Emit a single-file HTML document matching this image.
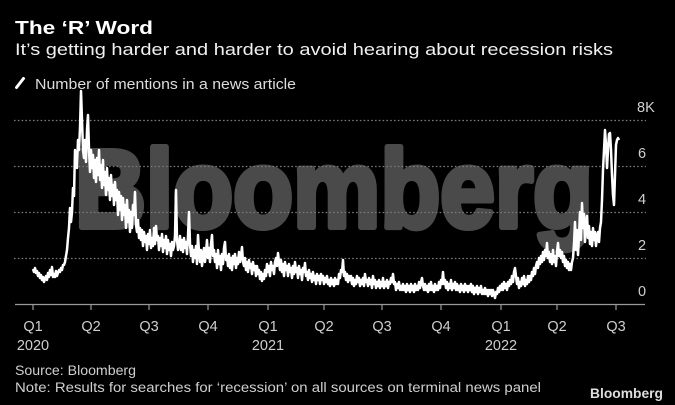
<!DOCTYPE html>
<html><head><meta charset="utf-8"><style>
html,body{margin:0;padding:0;background:#000;}
svg{display:block;}
text{font-family:"Liberation Sans",sans-serif;}
</style></head><body>
<svg width="675" height="405" viewBox="0 0 675 405" xmlns="http://www.w3.org/2000/svg">
<rect width="675" height="405" fill="#000"/>
<!-- watermark -->
<text x="75" y="227" font-size="110" font-weight="bold" fill="#4a4a4a" stroke="#4a4a4a" stroke-width="6" stroke-linejoin="round" textLength="518" lengthAdjust="spacingAndGlyphs">Bloomberg</text>
<!-- gridlines -->
<g stroke="#7a7a7a" stroke-width="1.3" stroke-dasharray="1.6 2.2">
<line x1="14" y1="120.5" x2="646" y2="120.5"/>
<line x1="14" y1="166.5" x2="646" y2="166.5"/>
<line x1="14" y1="212.5" x2="646" y2="212.5"/>
<line x1="14" y1="258.5" x2="646" y2="258.5"/>
</g>
<!-- axis -->
<line x1="15" y1="304.5" x2="645" y2="304.5" stroke="#999" stroke-width="1.2"/>
<g stroke="#999" stroke-width="1.2">
<line x1="33" y1="304" x2="33" y2="310"/>
<line x1="91" y1="304" x2="91" y2="310"/>
<line x1="149" y1="304" x2="149" y2="310"/>
<line x1="208" y1="304" x2="208" y2="310"/>
<line x1="268" y1="304" x2="268" y2="310"/>
<line x1="324" y1="304" x2="324" y2="310"/>
<line x1="382" y1="304" x2="382" y2="310"/>
<line x1="441" y1="304" x2="441" y2="310"/>
<line x1="501" y1="304" x2="501" y2="310"/>
<line x1="557" y1="304" x2="557" y2="310"/>
<line x1="616" y1="304" x2="616" y2="310"/>
</g>
<!-- data -->
<polyline fill="none" stroke="#fff" stroke-width="2.5" stroke-linejoin="round" points="
33,269 34,272 35,268 36,273 37,271 38,276 39,273 40,278 41,275 42,280 43,277 44,282 45,279 46,276 47,280 48,273 49,277 50,270 51,275 52,267 53,277 54,274 55,277 56,271 57,276 58,273 59,270 60,272 61,268 62,270 63,265
64,265 65,262 66,256 67,250 68,238 69,228 70,208 71,222 72,212 73,188 74,196 75,150 76,158 77,168 78,140 79,150 80,128 81,91 82,120 83,150
84,158 85,140 86,162 87,130 88,115 89,150 90,172 91,150 92,168 93,155 94,178 95,160 96,182 97,158 98,175 99,150 100,180 101,165 102,188 103,160 104,185 105,172 106,195 107,168 108,190 109,178 110,200 111,175 112,196 113,185 114,205 115,182 116,200 117,190 118,215 119,192 120,210 121,196 122,220 123,198 124,215 125,205 126,228 127,200 128,222 129,210 130,232 131,212 132,228 133,205 134,215 135,192 136,225 137,232 138,220 139,238 140,228
141,240 142,230 143,246 144,232 145,242 146,236 147,250 148,234 149,244 150,230 151,248 152,238 153,246 154,228 155,244 156,226 157,240 158,236 159,250 160,238 161,246 162,234 163,252 164,240 165,248 166,236 167,254 168,240 169,250 170,244 171,256 172,242 173,250 174,246 175,236 176,190 177,240 178,250
179,244 180,236 181,250 182,240 183,252 184,238 185,248 186,242 187,254 188,236 189,212 190,244 191,256 192,246 193,262 194,250 195,258 196,246 197,264 198,235 199,252 200,262 201,250 202,266 203,256 204,248 205,262 206,252 207,240 208,258 209,248 210,262 211,244 212,235 213,256 214,250 215,262 216,254 217,268 218,250 219,264 220,256 221,270 222,254 223,264 224,248 225,242 226,260 227,256 228,266 229,254 230,268 231,258 232,270 233,256 234,264 235,254 236,268 237,258 238,264 239,252 240,262 241,256 242,247 243,262 244,266 245,258 246,270 247,262 248,272 249,260 250,268 251,264 252,274 253,262 254,270 255,266 256,276 257,266 258,274 259,270 260,279 261,272 262,281 263,274 264,279 265,270 266,276 267,264 268,272 269,266 270,276 271,262 272,270 273,266 274,274 275,262 276,258 277,266 278,253 279,262 280,270 281,260 282,272 283,264 284,276 285,262 286,270 287,266 288,276 289,264 290,272 291,268 292,278 293,266 294,274 295,262 296,272 297,268 298,278 299,266 300,274 301,270 302,280 303,268 304,272 305,263 306,276 307,272 308,280 309,270 310,278 311,274 312,282 313,272 314,280 315,276 316,284 317,274 318,280 319,276 320,284 321,274 322,280 323,276 324,284 325,278 326,282 327,276 328,284 329,280 330,286 331,278 332,284 333,280 334,286 335,278 336,284 337,280 338,284 339,274 340,278 341,270 342,272 343,260 344,276 345,272 346,280 347,274 348,282 349,276 350,280
351,276 352,284 353,278 354,286 355,280 356,284 357,276 358,282 359,278 360,286 361,280 362,284 363,278 364,286 365,274 366,282 367,280 368,286 369,278 370,284 371,280 372,288 373,276 374,284 375,280 376,288 377,282 378,286 379,280 380,288 381,282 382,286 383,278 384,288 385,282 386,286 387,280 388,288 389,282 390,284 391,278 392,282 393,274 394,284 395,282 396,290 397,284 398,288 399,282 400,290 401,286 402,290 403,284 404,290 405,286 406,292 407,284 408,290 409,286 410,292 411,284 412,290 413,286 414,292 415,284 416,290 417,286 418,290 419,282 420,288 421,282 422,278 423,286 424,290 425,284 426,290 427,286 428,292 429,284 430,290 431,282 432,290 433,286 434,292 435,284 436,290 437,286 438,290 439,282 440,288 441,280 442,284 443,272 444,284 445,280 446,288 447,282 448,290 449,284 450,288 451,280 452,290 453,284 454,288 455,282 456,290 457,284 458,290 459,286 460,292 461,284 462,290 463,286 464,292 465,284 466,290 467,286 468,292 469,286 470,290 471,284 472,292 473,286 474,294 475,288 476,292 477,286 478,294 479,288 480,292 481,286 482,294 483,290 484,294 485,288 486,294 487,290 488,296 489,290 490,294 491,290 492,296 493,290 494,294 495,298 496,292 497,294 498,288 499,292 500,286 501,290 502,284 503,290 504,282 505,288 506,284 507,290 508,282 509,286 510,280 511,284 512,276 513,282 514,272 515,268
516,276 517,284 518,278 519,288 520,282 521,286 522,278 523,284 524,276 525,286 526,280 527,284 528,276 529,282 530,276 531,280 532,272 533,276 534,268 535,274 536,266 537,262 538,268 539,258 540,264 541,256 542,262 543,252 544,260 545,250 546,256 547,243 548,258 549,252 550,262 551,254 552,264 553,250 554,262 555,256 556,266 557,252 558,243 559,256 560,250 561,258 562,252 563,262 564,256 565,266 566,260 567,268 568,262 569,270 570,264 571,270 572,262 573,258 574,244 575,222 576,250 577,230 578,255 579,236 580,212 581,240 582,203 583,228 584,214 585,242 586,222 587,216 588,238 589,226 590,244 591,232 592,246 593,228 594,240 595,232 596,246 597,236 598,232 599,242 600,228 601,222 602,200 603,170 604,150 605,130 606,145 607,168 608,150 609,134 610,133 611,150 612,175 613,195 614,205 615,175 616,145 617,140 618,138 619,140"/>
<!-- y labels -->
<g font-size="14.5" fill="#cfcfcf">
<text x="637" y="112">8K</text>
<text x="638" y="158">6</text>
<text x="638" y="204">4</text>
<text x="638" y="250">2</text>
<text x="638" y="296">0</text>
</g>
<!-- x labels -->
<g font-size="14.5" fill="#cfcfcf" text-anchor="middle">
<text x="33" y="331">Q1</text>
<text x="91" y="331">Q2</text>
<text x="149" y="331">Q3</text>
<text x="208" y="331">Q4</text>
<text x="268" y="331">Q1</text>
<text x="324" y="331">Q2</text>
<text x="382" y="331">Q3</text>
<text x="441" y="331">Q4</text>
<text x="501" y="331">Q1</text>
<text x="557" y="331">Q2</text>
<text x="616" y="331">Q3</text>
<text x="33" y="350">2020</text>
<text x="268" y="350">2021</text>
<text x="501" y="350">2022</text>
</g>
<!-- titles -->
<text x="15" y="34" font-size="18.5" font-weight="bold" fill="#fff" textLength="138" lengthAdjust="spacingAndGlyphs">The ‘R’ Word</text>
<text x="15" y="55" font-size="16.5" fill="#f0f0f0" textLength="598" lengthAdjust="spacingAndGlyphs">It’s getting harder and harder to avoid hearing about recession risks</text>
<line x1="16.5" y1="87.5" x2="23.5" y2="78.5" stroke="#fff" stroke-width="3" stroke-linecap="round"/>
<text x="35" y="89" font-size="15" fill="#dcdcdc" textLength="261" lengthAdjust="spacingAndGlyphs">Number of mentions in a news article</text>
<!-- footer -->
<text x="15" y="375" font-size="13.5" fill="#cfcfcf" textLength="121" lengthAdjust="spacingAndGlyphs">Source: Bloomberg</text>
<text x="15" y="392" font-size="13.5" fill="#cfcfcf" textLength="526" lengthAdjust="spacingAndGlyphs">Note: Results for searches for ‘recession’ on all sources on terminal news panel</text>
<text x="590" y="398" font-size="14" font-weight="bold" fill="#dedede" textLength="73" lengthAdjust="spacingAndGlyphs">Bloomberg</text>
</svg>
</body></html>
